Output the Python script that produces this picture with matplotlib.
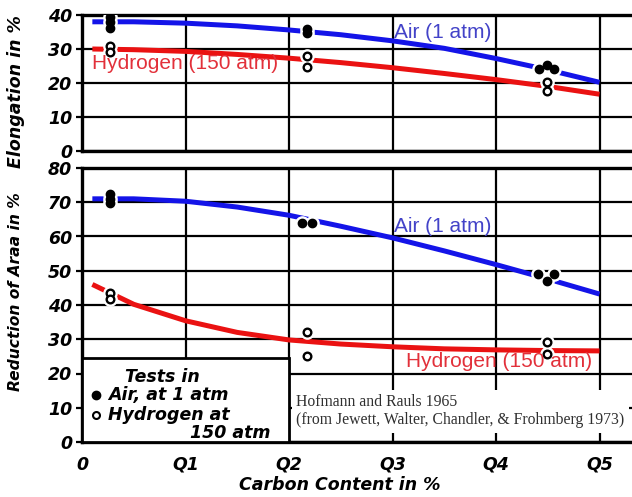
import matplotlib
matplotlib.use("Agg")
import matplotlib.pyplot as plt
from matplotlib.patches import Rectangle

# ---------------- data ----------------
curve_x = [0.01, 0.05, 0.10, 0.15, 0.20, 0.25, 0.30, 0.35, 0.40, 0.45, 0.50]
elong_air_curve = [38.0, 38.0, 37.6, 36.8, 35.6, 34.2, 32.4, 30.2, 27.2, 23.9, 20.2]
elong_h2_curve = [30.0, 29.8, 29.3, 28.4, 27.3, 26.0, 24.5, 22.8, 21.0, 19.0, 16.7]
ra_air_curve = [71.0, 71.0, 70.3, 68.6, 66.2, 63.0, 59.6, 55.8, 51.8, 47.6, 43.2]
ra_h2_curve = [46.0, 40.2, 35.4, 32.0, 29.8, 28.6, 27.8, 27.2, 26.9, 26.7, 26.6]

elong_air_x = [0.027, 0.027, 0.027, 0.217, 0.217, 0.442, 0.449, 0.456]
elong_air_y = [39.5, 38.0, 36.3, 36.0, 34.6, 24.2, 25.2, 24.2]
elong_h2_x = [0.027, 0.027, 0.217, 0.217, 0.449, 0.449]
elong_h2_y = [31.0, 29.0, 28.0, 24.8, 20.3, 17.6]

ra_air_x = [0.027, 0.027, 0.027, 0.213, 0.222, 0.441, 0.456, 0.449]
ra_air_y = [72.5, 71.0, 69.8, 64.0, 64.0, 49.0, 49.0, 47.0]
ra_h2_x = [0.027, 0.027, 0.217, 0.217, 0.449, 0.449]
ra_h2_y = [43.5, 41.8, 32.2, 25.0, 29.2, 25.6]

x_ticks = [0, 0.1, 0.2, 0.3, 0.4, 0.5]
x_tick_labels = ["0", "Q1", "Q2", "Q3", "Q4", "Q5"]
elong_ticks = [0, 10, 20, 30, 40]
ra_ticks = [0, 10, 20, 30, 40, 50, 60, 70, 80]

BLUE = "#1414e8"
RED = "#ea1212"
BLUE_TXT = "#4343c8"
RED_TXT = "#e2303a"

W, H = 632, 497
fig = plt.figure(figsize=(W / 100, H / 100), dpi=100)

def fx(px):
    return px / W

def fy(py):
    return 1 - py / H

x_right = 550 / 1035.0  # data value at right edge of image
left_px, right_px = 82, 632

ax1 = fig.add_axes([fx(left_px), fy(151), fx(right_px - left_px), (151 - 15) / H])
ax2 = fig.add_axes([fx(left_px), fy(442), fx(right_px - left_px), (442 - 168) / H])

tick_font = dict(fontsize=12.5, fontweight="bold", fontstyle="italic", family="DejaVu Sans")

for ax, ticks, ymax in [(ax1, elong_ticks, 40), (ax2, ra_ticks, 80)]:
    ax.set_xlim(0, x_right)
    ax.set_ylim(0, ymax)
    ax.set_xticks(x_ticks)
    ax.set_yticks(ticks)
    ax.grid(True, color="black", linewidth=1.6, zorder=1)
    for s in ["left", "top", "bottom"]:
        ax.spines[s].set_linewidth(2.4)
    ax.spines["right"].set_visible(False)
    ax.tick_params(axis="y", length=4, width=1.6, pad=3)
    ax.tick_params(axis="x", length=0)
    ax.set_yticklabels([str(t) for t in ticks], **tick_font)
    ax.set_axisbelow(True)

ax1.set_xticklabels([])
ax2.set_xticklabels(x_tick_labels, **tick_font)
ax2.tick_params(axis="x", pad=10)

def draw_points(ax, xs, ys, filled):
    ax.plot(xs, ys, "o", ms=9.5, color="white", mec="white", zorder=4)
    if filled:
        ax.plot(xs, ys, "o", ms=6, color="black", mec="black", zorder=5)
    else:
        ax.plot(xs, ys, "o", ms=5.5, mfc="white", mec="black", mew=1.7, zorder=5)

lab_txt = dict(fontsize=15, family="Liberation Sans", va="center", ha="left", zorder=6)

# top panel
ax1.plot(curve_x, elong_air_curve, color=BLUE, lw=3.6, zorder=3, solid_capstyle="butt")
ax1.plot(curve_x, elong_h2_curve, color=RED, lw=3.6, zorder=3, solid_capstyle="butt")
draw_points(ax1, elong_air_x, elong_air_y, True)
draw_points(ax1, elong_h2_x, elong_h2_y, False)
ax1.text(0.301, 35.0, "Air (1 atm)", color=BLUE_TXT, **lab_txt)
ax1.text(0.010, 25.6, "Hydrogen (150 atm)", color=RED_TXT, **lab_txt)

# bottom panel
ax2.plot(curve_x, ra_air_curve, color=BLUE, lw=3.6, zorder=3, solid_capstyle="butt")
ax2.plot(curve_x, ra_h2_curve, color=RED, lw=3.6, zorder=3, solid_capstyle="butt")
draw_points(ax2, ra_air_x, ra_air_y, True)
draw_points(ax2, ra_h2_x, ra_h2_y, False)
ax2.text(0.301, 62.8, "Air (1 atm)", color=BLUE_TXT, **lab_txt)
ax2.text(0.313, 23.4, "Hydrogen (150 atm)", color=RED_TXT, **lab_txt)

# legend box
ax2.add_patch(Rectangle((0, 0), 0.2, 24.5, facecolor="white", edgecolor="black",
                        linewidth=2.0, zorder=6))
leg_font = dict(fontsize=12.5, fontweight="bold", fontstyle="italic", family="DejaVu Sans",
                zorder=7)
ax2.text(0.078, 19.0, "Tests in", ha="center", va="center", **leg_font)
ax2.plot([0.014], [13.8], "o", ms=6, color="black", zorder=7)
ax2.text(0.025, 13.6, "Air, at 1 atm", ha="left", va="center", **leg_font)
ax2.plot([0.014], [7.8], "o", ms=5, mfc="white", mec="black", mew=1.5, zorder=7)
ax2.text(0.025, 7.8, "Hydrogen at", ha="left", va="center", **leg_font)
ax2.text(0.104, 2.6, "150 atm", ha="left", va="center", **leg_font)

# citation
ax2.text(0.207, 9.0, "Hofmann and Rauls 1965\n(from Jewett, Walter, Chandler, & Frohmberg 1973)",
         ha="left", va="center", fontsize=11.3, family="Liberation Serif", color="#303030",
         linespacing=1.2, zorder=7,
         bbox=dict(facecolor="white", edgecolor="none", pad=3))

# axis labels
lab_font = dict(fontweight="bold", fontstyle="italic", family="DejaVu Sans")
fig.text(fx(16), fy(92), "Elongation in %", rotation=90, ha="center", va="center",
         fontsize=12.5, **lab_font)
fig.text(fx(16), fy(292), "Reduction of Araa in %", rotation=90, ha="center", va="center",
         fontsize=11.2, **lab_font)
fig.text(fx(340), fy(485), "Carbon Content in %", ha="center", va="center",
         fontsize=12.5, **lab_font)

fig.savefig("out.png", dpi=100, facecolor="white")
